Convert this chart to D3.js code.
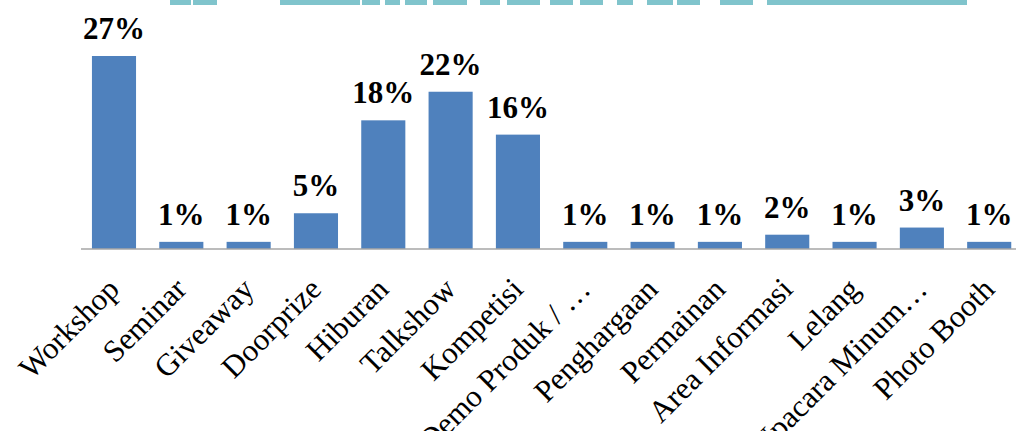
<!DOCTYPE html>
<html>
<head>
<meta charset="utf-8">
<script src="https://cdn.jsdelivr.net/npm/d3@7"></script>
<style>
  body { margin: 0; background: #fff; }
  svg { display: block; }
  text { font-family: "Liberation Serif", "Times New Roman", Times, serif; }
</style>
</head>
<body>
<svg id="chart" width="1016" height="431"></svg>
<script>
// categories and percentages
const categories = ["Workshop", "Seminar", "Giveaway", "Doorprize", "Hiburan", "Talkshow",
  "Kompetisi", "Demo Produk / \u2026", "Penghargaan", "Permainan", "Area Informasi",
  "Lelang", "Upacara Minum\u2026", "Photo Booth"];
const values = [27, 1, 1, 5, 18, 22, 16, 1, 1, 1, 2, 1, 3, 1];

// cut-off watermark strip at the very top (start, end in px)
const watermark = [[170, 191], [193, 217], [280, 360], [362, 380], [385, 400], [405, 427],
  [433, 467], [480, 500], [507, 537], [520, 540], [550, 573], [580, 603], [617, 633],
  [647, 673], [677, 700], [720, 753], [767, 967]];

const svg = d3.select("#chart");
const baseY = 249;

let x = d3.scaleBand()
  .domain(categories)
  .range([80.5, 1022.7])
  .paddingInner(0.345)
  .paddingOuter(0.17);

let y = d3.scaleLinear()
  .domain([0, 27])
  .range([baseY, 56]);

// watermark
svg.append("g")
  .selectAll("rect")
  .data(watermark)
  .enter().append("rect")
    .attr("x", d => d[0])
    .attr("y", 0)
    .attr("width", d => d[1] - d[0])
    .attr("height", 5)
    .attr("fill", "#80c4cc");

// bars
svg.append("g")
  .selectAll("rect")
  .data(values)
  .enter().append("rect")
    .attr("x", (d, i) => x(categories[i]))
    .attr("y", d => y(d))
    .attr("width", x.bandwidth())
    .attr("height", d => baseY - y(d))
    .attr("fill", "#4f81bd");

// value labels
svg.append("g")
  .selectAll("text")
  .data(values)
  .enter().append("text")
    .attr("x", (d, i) => x(categories[i]) + x.bandwidth() / 2)
    .attr("y", d => y(d) - 17)
    .attr("text-anchor", "middle")
    .style("font-weight", "bold")
    .style("font-size", "31px")
    .text(d => d + "%");

// x axis line
svg.append("line")
  .attr("x1", 81).attr("x2", 1016)
  .attr("y1", baseY).attr("y2", baseY)
  .attr("stroke", "#a6a6a6")
  .attr("stroke-width", 1.5);

// rotated category labels
svg.append("g")
  .selectAll("text")
  .data(categories)
  .enter().append("text")
    .attr("transform", d => `translate(${x(d) + x.bandwidth() / 2 + 7},${baseY + 42}) rotate(-45)`)
    .attr("text-anchor", "end")
    .style("font-size", "31px")
    .text(d => d);
</script>
</body>
</html>
